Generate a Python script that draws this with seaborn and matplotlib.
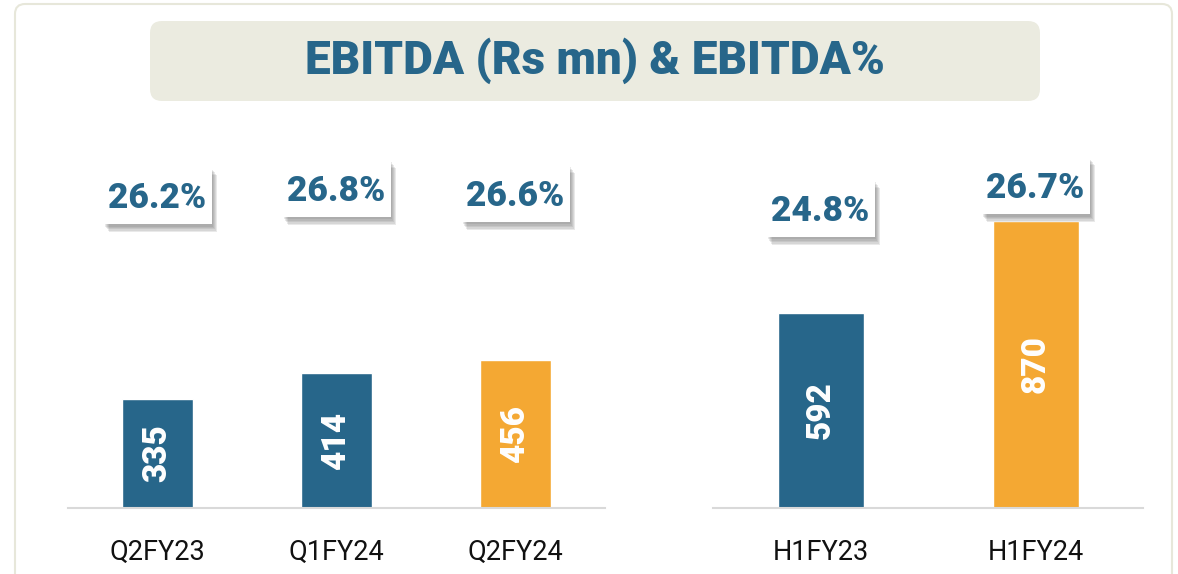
import matplotlib
matplotlib.use("Agg")
import matplotlib.pyplot as plt
import matplotlib.patheffects as pe
import matplotlib.transforms as mtransforms
from matplotlib.patches import FancyBboxPatch, Rectangle
import seaborn as sns

# --- data ---
qtr_labels = ["Q2FY23", "Q1FY24", "Q2FY24"]
qtr_ebitda = [335, 414, 456]
qtr_margin = ["26.2%", "26.8%", "26.6%"]

half_labels = ["H1FY23", "H1FY24"]
half_ebitda = [592, 870]
half_margin = ["24.8%", "26.7%"]

BLUE = "#27668A"
ORANGE = "#F4A833"

sns.set_theme(style="white")
plt.rcParams["font.family"] = ["Roboto", "DejaVu Sans"]

fig = plt.figure(figsize=(11.78, 5.74), dpi=100)

# outer frame and title box (in inches)
fig.patches.append(FancyBboxPatch((0.15, -0.3), 11.57, 6.0, boxstyle="round,pad=0,rounding_size=0.1",
                                  transform=fig.dpi_scale_trans, fc="none", ec="#E7E7DA", lw=1.5))
fig.patches.append(FancyBboxPatch((1.50, 4.73), 8.90, 0.80, boxstyle="round,pad=0,rounding_size=0.12",
                                  transform=fig.dpi_scale_trans, fc="#EBEBE0", ec="none"))
fig.text(5.95, 5.13, "EBITDA (Rs mn) & EBITDA%", transform=fig.dpi_scale_trans,
         ha="center", va="center", fontsize=33, fontweight="heavy", color=BLUE)

# soft drop shadow for the margin boxes
shadow = [pe.SimplePatchShadow(offset=(o * 0.7, -o), shadow_rgbFace="#666666", alpha=0.14)
          for o in (2, 3, 4, 5, 6)] + [pe.Normal()]


def draw_panel(ax, labels, values, margins, colors, label_y, ymax):
    sns.barplot(x=labels, y=values, hue=labels, palette=colors, legend=False,
                width=0.4, saturation=1, ax=ax)
    ax.set_xlim(-0.5, len(labels) - 0.5)
    ax.set_ylim(0, ymax)
    ax.set_yticks([])
    ax.set_xlabel("")
    ax.set_ylabel("")
    for side in ["top", "left", "right"]:
        ax.spines[side].set_visible(False)
    ax.spines["bottom"].set_color("#D9D9D9")
    ax.spines["bottom"].set_linewidth(1.5)
    ax.tick_params(axis="x", length=0, pad=22, labelsize=19.5, labelcolor="#111111")
    ax.patch.set_alpha(0)

    for i, v in enumerate(values):
        ax.text(i, v / 2, str(v), rotation=90, ha="center", va="center",
                color="white", fontsize=24, fontweight="heavy")
        # white label box, fixed size in inches, anchored at (i, label_y)
        trans = fig.dpi_scale_trans + mtransforms.ScaledTranslation(i, label_y[i], ax.get_xaxis_transform())
        box = Rectangle((-0.54, -0.285), 1.08, 0.57, transform=trans, fc="white", ec="none",
                        clip_on=False, zorder=4)
        box.set_path_effects(shadow)
        ax.add_patch(box)
        ax.text(i, label_y[i], margins[i], transform=ax.get_xaxis_transform(),
                ha="center", va="center_baseline", color=BLUE, fontsize=25.5,
                fontweight="heavy", zorder=5)


ax1 = fig.add_axes([68 / 1178, 0.115, 537 / 1178, 0.624])
draw_panel(ax1, qtr_labels, qtr_ebitda, qtr_margin, [BLUE, BLUE, ORANGE], [0.873, 0.893, 0.879], 1100)

ax2 = fig.add_axes([713 / 1178, 0.115, 430 / 1178, 0.624])
draw_panel(ax2, half_labels, half_ebitda, half_margin, [BLUE, ORANGE], [0.837, 0.901], 1085)

fig.savefig("out.png", dpi=100, facecolor="white")
